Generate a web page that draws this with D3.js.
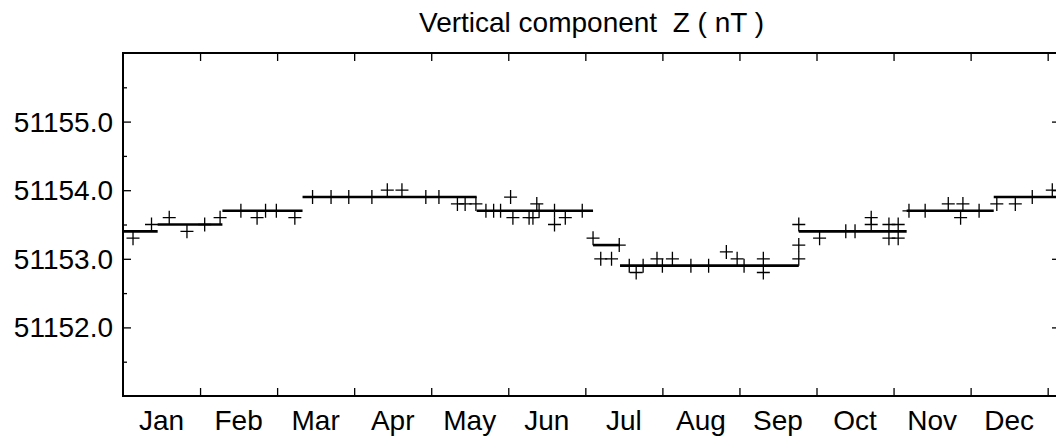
<!DOCTYPE html>
<html>
<head>
<meta charset="utf-8">
<script src="https://cdn.jsdelivr.net/npm/d3@7"></script>
<style>
body { margin: 0; background: #fff; }
svg { display: block; font-family: "Liberation Sans", Arial, Helvetica, sans-serif; }
</style>
</head>
<body>
<svg></svg>
<script>
var monthLabels = ["Jan", "Feb", "Mar", "Apr", "May", "Jun", "Jul", "Aug", "Sep", "Oct", "Nov", "Dec"];

// step levels (x in months from Jan 1)
var stepStart = [0, 0.45, 1.29, 2.33, 4.59, 6.10, 6.45, 8.77, 10.17, 11.30];
var stepEnd = [0.45, 1.29, 2.33, 4.59, 6.10, 6.45, 8.77, 10.17, 11.30, 12.16];
var stepValue = [51153.4, 51153.5, 51153.7, 51153.9, 51153.7, 51153.2, 51152.9, 51153.4, 51153.7, 51153.9];

// individual values (crosses)
var pointMonth = [0.13, 0.37, 0.60, 0.83, 1.06, 1.26, 1.53, 1.74, 1.85, 1.99, 2.23, 2.46, 2.70, 2.93,
    3.23, 3.43, 3.62, 3.93, 4.10, 4.34, 4.44, 4.58, 4.71, 4.81, 4.90,
    5.03, 5.06, 5.27, 5.32, 5.37, 5.40, 5.60, 5.60, 5.74, 5.96,
    6.10, 6.20, 6.34, 6.44, 6.57, 6.66, 6.75, 6.93, 7.00, 7.13, 7.37, 7.60,
    7.83, 7.97, 8.06, 8.31, 8.31, 8.77, 8.77, 8.77,
    9.04, 9.38, 9.50, 9.71, 9.71, 9.94, 9.94, 10.06, 10.06,
    10.20, 10.41, 10.71, 10.87, 10.90, 11.11, 11.34, 11.58, 11.80, 12.06];
var pointValue = [51153.3, 51153.5, 51153.6, 51153.4, 51153.5, 51153.6, 51153.7, 51153.6, 51153.7, 51153.7, 51153.6, 51153.9, 51153.9, 51153.9,
    51153.9, 51154.0, 51154.0, 51153.9, 51153.9, 51153.8, 51153.8, 51153.8, 51153.7, 51153.7, 51153.7,
    51153.9, 51153.6, 51153.6, 51153.6, 51153.8, 51153.7, 51153.7, 51153.5, 51153.6, 51153.7,
    51153.3, 51153.0, 51153.0, 51153.2, 51152.9, 51152.8, 51152.9, 51153.0, 51152.9, 51153.0, 51152.9, 51152.9,
    51153.1, 51153.0, 51152.9, 51153.0, 51152.8, 51153.5, 51153.2, 51153.0,
    51153.3, 51153.4, 51153.4, 51153.6, 51153.5, 51153.5, 51153.3, 51153.5, 51153.3,
    51153.7, 51153.7, 51153.8, 51153.6, 51153.8, 51153.7, 51153.8, 51153.8, 51153.9, 51154.0];

var width = 1056;
var height = 441;
var plotLeft = 123, plotRight = 1060, plotTop = 53, plotBottom = 396;

var xScale = d3.scaleLinear()
    .domain([0, 12.16])
    .range([plotLeft, plotRight]);

var yScale = d3.scaleLinear()
    .domain([51151, 51156])
    .range([plotBottom, plotTop]);

var svg = d3.select("svg")
    .attr("width", width)
    .attr("height", height);

var majorY = d3.range(51152, 51156, 1);
var minorY = d3.range(51151.5, 51156, 1);
var monthTicks = d3.range(1, 13);

// x ticks, top and bottom, pointing inward
svg.append("g")
    .attr("transform", "translate(0," + plotBottom + ")")
    .call(d3.axisTop(xScale).tickValues(monthTicks).tickSize(8).tickFormat(""));
svg.append("g")
    .attr("transform", "translate(0," + plotTop + ")")
    .call(d3.axisBottom(xScale).tickValues(monthTicks).tickSize(8).tickFormat(""));

// y ticks, left and right
svg.append("g")
    .attr("transform", "translate(" + plotLeft + ",0)")
    .call(d3.axisRight(yScale).tickValues(majorY).tickSize(8).tickFormat(""));
svg.append("g")
    .attr("transform", "translate(" + plotLeft + ",0)")
    .call(d3.axisRight(yScale).tickValues(minorY).tickSize(4).tickFormat(""));
svg.append("g")
    .attr("transform", "translate(" + plotRight + ",0)")
    .call(d3.axisLeft(yScale).tickValues(majorY).tickSize(8).tickFormat(""));
svg.append("g")
    .attr("transform", "translate(" + plotRight + ",0)")
    .call(d3.axisLeft(yScale).tickValues(minorY).tickSize(4).tickFormat(""));

svg.selectAll(".domain").remove();
svg.selectAll(".tick line")
    .attr("stroke", "#000")
    .attr("stroke-width", 1.3);

svg.append("rect")
    .attr("x", plotLeft)
    .attr("y", plotTop)
    .attr("width", plotRight - plotLeft)
    .attr("height", plotBottom - plotTop)
    .attr("fill", "none")
    .attr("stroke", "#000")
    .attr("stroke-width", 2);

// labels
svg.selectAll(".ylab")
    .data(majorY)
    .enter()
    .append("text")
    .attr("class", "ylab")
    .attr("x", plotLeft - 10)
    .attr("y", d => yScale(d))
    .attr("dy", "0.36em")
    .attr("text-anchor", "end")
    .attr("font-size", 28)
    .text(d => d3.format(".1f")(d));

svg.selectAll(".xlab")
    .data(monthLabels)
    .enter()
    .append("text")
    .attr("class", "xlab")
    .attr("x", (d, i) => xScale(i + 0.5))
    .attr("y", 430)
    .attr("text-anchor", "middle")
    .attr("font-size", 28)
    .text(d => d);

svg.append("text")
    .attr("x", (plotLeft + plotRight) / 2)
    .attr("y", 32)
    .attr("text-anchor", "middle")
    .attr("font-size", 28)
    .attr("xml:space", "preserve")
    .text("Vertical component  Z ( nT )");

// step levels
svg.selectAll(".step")
    .data(stepValue)
    .enter()
    .append("line")
    .attr("class", "step")
    .attr("x1", (d, i) => xScale(stepStart[i]))
    .attr("x2", (d, i) => xScale(stepEnd[i]))
    .attr("y1", d => yScale(d))
    .attr("y2", d => yScale(d))
    .attr("stroke", "#000")
    .attr("stroke-width", 2.6);

// crosses
svg.selectAll(".pt")
    .data(pointValue)
    .enter()
    .append("path")
    .attr("class", "pt")
    .attr("transform", (d, i) => "translate(" + xScale(pointMonth[i]) + "," + yScale(d) + ")")
    .attr("d", "M-6.5,0H6.5M0,-7V7")
    .attr("stroke", "#000")
    .attr("stroke-width", 1.3)
    .attr("fill", "none");
</script>
</body>
</html>
